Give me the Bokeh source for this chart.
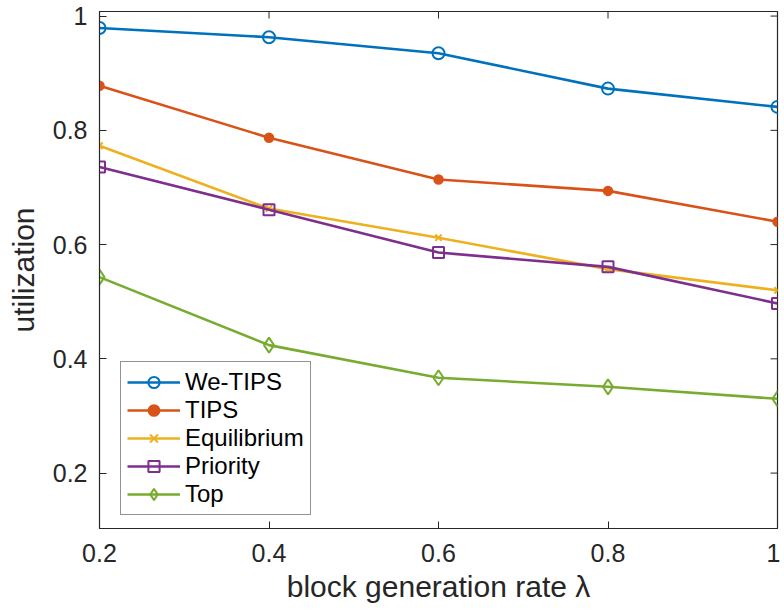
import math
from bokeh.plotting import figure
from bokeh.models import Range1d, FixedTicker, CustomJSTickFormatter, Legend, LegendItem
from bokeh.embed import file_html
from bokeh.resources import INLINE

x = [0.2, 0.4, 0.6, 0.8, 1.0]
we_tips = [0.979, 0.963, 0.935, 0.873, 0.841]
tips = [0.878, 0.787, 0.714, 0.694, 0.640]
equilibrium = [0.773, 0.663, 0.612, 0.557, 0.520]
priority = [0.736, 0.661, 0.586, 0.561, 0.497]
top = [0.543, 0.424, 0.367, 0.351, 0.330]
ticks = [0.2, 0.4, 0.6, 0.8, 1.0]

FONT = "Liberation Sans"
TXT = "#262626"
XMIN, XMAX = 0.2, 1.0
YMIN, YMAX = 0.103, 1.008

p = figure(width=780, height=606, output_backend="svg", toolbar_location=None,
           x_range=Range1d(XMIN, XMAX), y_range=Range1d(YMIN, YMAX),
           min_border_left=99, min_border_right=3, min_border_top=11, min_border_bottom=78)
p.xgrid.visible = False
p.ygrid.visible = False
p.outline_line_color = "#262626"
p.outline_line_width = 1.2
p.background_fill_color = "white"
p.border_fill_color = "white"

fmt = CustomJSTickFormatter(code="return tick.toFixed(1).replace(/\\.0$/, '');")

for ax in [p.xaxis[0], p.yaxis[0]]:
    ax.ticker = FixedTicker(ticks=ticks)
    ax.formatter = fmt
    ax.major_tick_in = 7
    ax.major_tick_out = 0
    ax.minor_tick_line_color = None
    ax.axis_line_color = "#262626"
    ax.major_tick_line_color = "#262626"
    ax.major_label_text_font = FONT
    ax.major_label_text_font_size = "25px"
    ax.major_label_text_color = TXT
    ax.axis_label_text_font = FONT
    ax.axis_label_text_font_size = "30px"
    ax.axis_label_text_font_style = "normal"
    ax.axis_label_text_color = TXT

p.xaxis[0].axis_label = "block generation rate λ"
p.yaxis[0].axis_label = "utilization"
p.xaxis[0].major_label_standoff = 15
p.yaxis[0].major_label_standoff = 12
p.xaxis[0].axis_label_standoff = 5
p.yaxis[0].axis_label_standoff = 10

# mirrored inward ticks on the top and right edges of the box
p.ray(x=ticks, y=[YMAX] * len(ticks), length=7, length_units="screen",
      angle=-math.pi / 2, line_color="#262626", line_width=1)
p.ray(x=[XMAX] * len(ticks), y=ticks, length=7, length_units="screen",
      angle=math.pi, line_color="#262626", line_width=1)

C1, C2, C3, C4, C5 = "#0072BD", "#D95319", "#EDB120", "#7E2F8E", "#77AC30"
LW = 2.6

items = []
r = p.line(x, we_tips, line_color=C1, line_width=LW)
m = p.scatter(x, we_tips, marker="circle", size=12, fill_color=None, line_color=C1, line_width=2)
items.append(LegendItem(label="We-TIPS", renderers=[r, m]))

r = p.line(x, tips, line_color=C2, line_width=LW)
m = p.scatter(x, tips, marker="circle", size=9, fill_color=C2, line_color=C2, line_width=1.5)
items.append(LegendItem(label="TIPS", renderers=[r, m]))

r = p.line(x, equilibrium, line_color=C3, line_width=LW)
m = p.scatter(x, equilibrium, marker="x", size=9, line_color=C3, line_width=2)
items.append(LegendItem(label="Equilibrium", renderers=[r, m]))

r = p.line(x, priority, line_color=C4, line_width=LW)
m = p.scatter(x, priority, marker="square", size=11, fill_color=None, line_color=C4, line_width=2)
items.append(LegendItem(label="Priority", renderers=[r, m]))

r = p.line(x, top, line_color=C5, line_width=LW)
m = p.scatter(x, top, marker="diamond", size=15, fill_color=None, line_color=C5, line_width=2)
items.append(LegendItem(label="Top", renderers=[r, m]))

legend = Legend(items=items, location=(21, 13), margin=0, padding=6, spacing=0,
                glyph_width=53, glyph_height=28, label_height=28, label_standoff=5,
                label_text_font=FONT, label_text_font_size="24px", label_text_color="black",
                border_line_color="#262626", border_line_width=1.2,
                background_fill_color="white", background_fill_alpha=1.0)
p.add_layout(legend, "center")

open("out.html", "w").write(file_html(p, INLINE))
